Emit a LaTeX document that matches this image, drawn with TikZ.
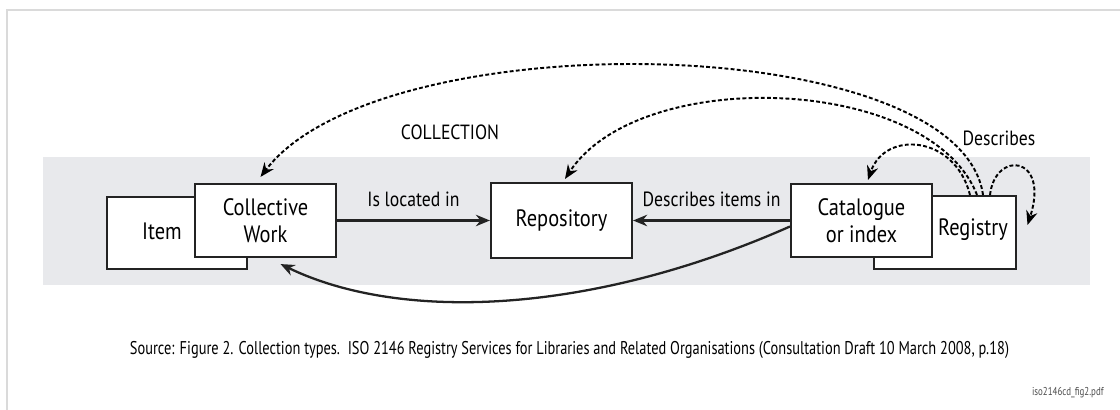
\documentclass[tikz,border=0pt]{standalone}
\usepackage{fontspec}
\setmainfont{PT Sans}[FakeStretch=0.86]
\newfontfamily\capfont{PT Sans}[FakeStretch=0.78]
\usepackage{tikz}
\usetikzlibrary{positioning, calc}
\usetikzlibrary{arrows.meta}

\definecolor{bandgray}{RGB}{232,233,236}
\definecolor{framegray}{RGB}{218,218,218}
\definecolor{linegray}{RGB}{35,35,35}

\begin{document}
\begin{tikzpicture}[
    box/.style={draw=linegray, line width=1.2pt, fill=white, minimum width=2.82cm, minimum height=1.46cm, inner sep=0pt, align=center, font=\fontsize{13.5}{15.5}\selectfont},
    txt/.style={font=\fontsize{13.5}{15.5}\selectfont, inner sep=0pt},
    lbl/.style={font=\fontsize{11.7}{13}\selectfont, inner sep=0pt},
    link/.style={draw=linegray, line width=1.3pt, -{Stealth[length=8pt,width=6.5pt]}},
    ref/.style={draw=black, line width=1.1pt, dash pattern=on 2.2pt off 1.3pt, -{Stealth[length=8pt,width=6.5pt]}}
]
        \useasboundingbox (0,0) rectangle (22.4,-8.2);
        % frame and shaded band
        \draw[framegray, line width=1pt] (0.14,-8.2) -- (0.14,-0.2) -- (22.4,-0.2);
        \fill[bandgray] (0.86,-3.14) rectangle (21.8,-5.7);
        \node[lbl] (colltitle) at (9.0,-2.64) {COLLECTION};

        % boxes
        \node[box, minimum width=2.8cm, minimum height=1.44cm] (item) at (3.54,-4.66) {};
        \node[txt] (itemlbl) at (3.24,-4.62) {Item};
        \node[box] (coll) at (5.31,-4.41) {Collective\\Work};
        \node[box, minimum height=1.5cm] (repo) at (11.23,-4.41) {Repository};
        \node[box, minimum width=2.84cm] (reg) at (18.9,-4.65) {};
        \node[txt] (reglbl) at (19.46,-4.6) {Registry};
        \node[box] (cat) at (17.23,-4.41) {Catalogue\\or index};

        % solid links
        \draw[link] (coll) -- node[lbl, above=0.26cm] (locin) {Is located in} (repo);
        \draw[link] (cat) -- node[lbl, above=0.26cm] (descin) {Describes items in} (repo);
        \draw[link] ([yshift=-1.2mm]cat.west) .. controls (11.8,-6.3) and (8.0,-6.44) .. ([xshift=3mm,yshift=-1.2mm]coll.south);

        % dashed links from the registry
        \draw[ref] ([xshift=0.76cm]reg.north) .. controls (19.2,-0.6) and (7.6,-0.4) .. ([xshift=-1mm,yshift=1.2mm]coll.north);
        \draw[ref] ([xshift=0.64cm]reg.north) .. controls (18.6,-1.5) and (12.8,-1.3) .. ([xshift=0.7mm,yshift=0.6mm]repo.north);
        \draw[ref] ([xshift=0.5cm]reg.north) .. controls (19.1,-2.7) and (17.7,-2.6) .. ([xshift=0.13cm,yshift=0.6mm]cat.north);
        \draw[ref] ([xshift=0.9cm]reg.north) .. controls (19.9,-3.0) and (21.0,-3.1) .. ([xshift=1.65cm,yshift=-0.6cm]reg.north);
        \node[lbl] (desc) at (19.98,-2.76) {Describes};

        % caption
        \node[font=\capfont\fontsize{10.5}{12}\selectfont, inner sep=0pt] (caption) at (11.39,-7.0) {Source: Figure 2. Collection types.\ \ ISO 2146 Registry Services for Libraries and Related Organisations (Consultation Draft 10 March 2008, p.18)};
        \node[font=\capfont\fontsize{6.5}{7}\selectfont, inner sep=0pt, anchor=east, text=black!70] (fname) at (22.08,-7.86) {iso2146cd\_fig2.pdf};
\end{tikzpicture}
\end{document}
